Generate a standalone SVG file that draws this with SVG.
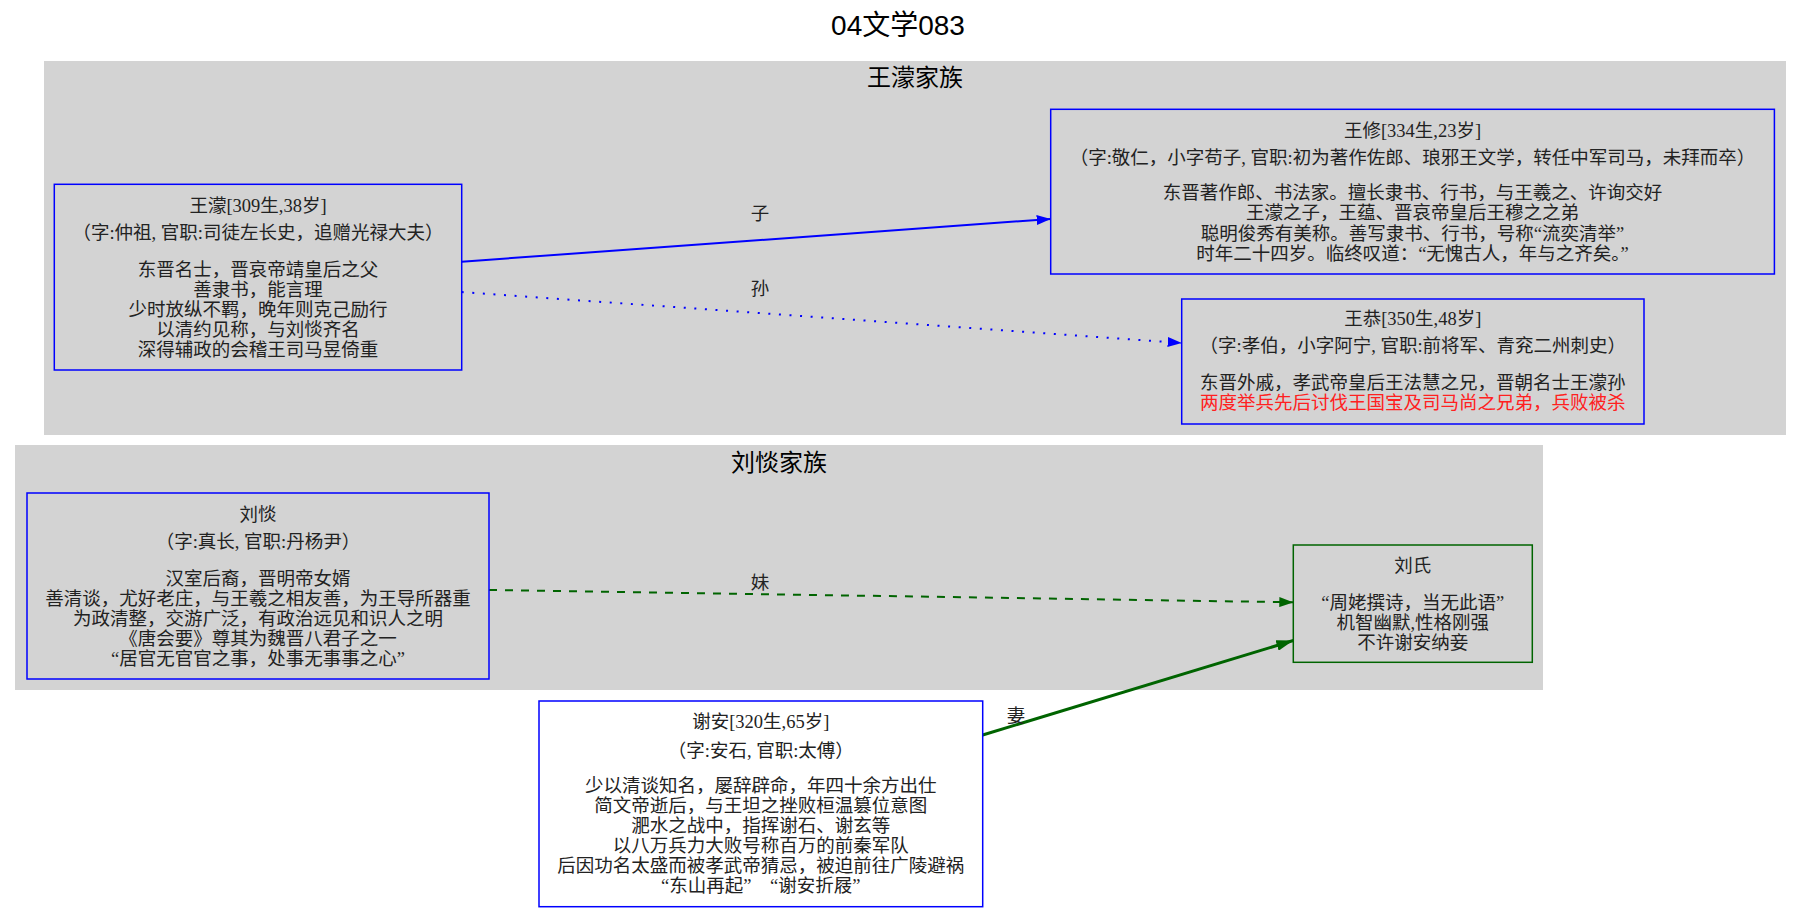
<svg xmlns="http://www.w3.org/2000/svg" width="1801" height="912" viewBox="0 0 1801 912">
  <style>
    .title { font-family: "Liberation Sans", "Noto Sans CJK SC", sans-serif; font-size: 28px; fill: #000; text-anchor: middle; }
    .ctitle { font-family: "Liberation Sans", "Noto Sans CJK SC", sans-serif; font-size: 24px; fill: #000; text-anchor: middle; }
    .cluster { fill: #d3d3d3; stroke: none; }
    .box { fill: none; stroke: #0000ff; stroke-width: 1.5; }
    .box-green { fill: none; stroke: #006400; stroke-width: 1.5; }
    .t { font-family: "Liberation Serif", "Noto Sans CJK SC", serif; font-size: 18.5px; fill: #222; text-anchor: middle; }
    .red { fill: #ff2020; }
    .lbl { font-family: "Liberation Serif", "Noto Sans CJK SC", serif; font-size: 18.5px; fill: #222; text-anchor: middle; }
    .e-blue { fill: none; stroke: #0000ff; stroke-width: 2; }
    .e-blue-dot { fill: none; stroke: #0000ff; stroke-width: 2; stroke-dasharray: 2 8.6; }
    .e-green-dash { fill: none; stroke: #006400; stroke-width: 2; stroke-dasharray: 8 8; }
    .e-green-bold { fill: none; stroke: #006400; stroke-width: 3; }
  </style>
  <defs>
    <marker id="arrow-blue" viewBox="0 0 14 10" refX="14" refY="5" markerWidth="14" markerHeight="10" markerUnits="userSpaceOnUse" orient="auto">
      <path d="M0,0 L14,5 L0,10 Z" fill="#0000ff"/>
    </marker>
    <marker id="arrow-green" viewBox="0 0 14 10" refX="14" refY="5" markerWidth="14" markerHeight="10" markerUnits="userSpaceOnUse" orient="auto">
      <path d="M0,0 L14,5 L0,10 Z" fill="#006400"/>
    </marker>
    <marker id="arrow-green-bold" viewBox="0 0 17 11" refX="17" refY="5.5" markerWidth="17" markerHeight="11" markerUnits="userSpaceOnUse" orient="auto">
      <path d="M0,0 L17,5.5 L0,11 Z" fill="#006400"/>
    </marker>
  </defs>

  <rect width="1801" height="912" fill="#ffffff"/>
  <text class="title" x="898" y="35">04文学083</text>

  <!-- family clusters -->
  <g id="cluster-wangmeng">
    <rect class="cluster" x="44" y="61" width="1742" height="374"/>
    <text class="ctitle" x="915" y="86">王濛家族</text>
  </g>
  <g id="cluster-liutan">
    <rect class="cluster" x="15" y="445" width="1528" height="245"/>
    <text class="ctitle" x="779" y="471">刘惔家族</text>
  </g>

  <!-- relations -->
  <g id="edges">
    <path class="e-blue" d="M461.7,261.7 L1050.7,219" marker-end="url(#arrow-blue)"/>
    <text class="lbl" x="760" y="219.5">子</text>
    <path class="e-blue-dot" d="M461.7,292 L1181.7,343" marker-end="url(#arrow-blue)"/>
    <text class="lbl" x="760" y="294.5">孙</text>
    <path class="e-green-dash" d="M489,590 L1293.3,602.3" marker-end="url(#arrow-green)"/>
    <text class="lbl" x="760" y="588.5">妹</text>
    <path class="e-green-bold" d="M982.7,735 L1293.3,640.5" marker-end="url(#arrow-green-bold)"/>
    <text class="lbl" x="1016" y="722">妻</text>
  </g>

  <g id="node-wangmeng">
    <rect class="box" x="54.3" y="184.3" width="407.4" height="185.7"/>
    <text class="t" x="258" y="212">王濛[309生,38岁]</text>
    <text class="t" x="258" y="238.5">（字:仲祖, 官职:司徒左长史，追赠光禄大夫）</text>
    <text class="t" x="258" y="276">东晋名士，晋哀帝靖皇后之父</text>
    <text class="t" x="258" y="295.5">善隶书，能言理</text>
    <text class="t" x="258" y="315.5">少时放纵不羁，晚年则克己励行</text>
    <text class="t" x="258" y="335.5">以清约见称，与刘惔齐名</text>
    <text class="t" x="258" y="355.5">深得辅政的会稽王司马昱倚重</text>
  </g>

  <g id="node-wangxiu">
    <rect class="box" x="1050.7" y="109.3" width="723.7" height="164.7"/>
    <text class="t" x="1412.5" y="137">王修[334生,23岁]</text>
    <text class="t" x="1412.5" y="163.7">（字:敬仁，小字苟子, 官职:初为著作佐郎、琅邪王文学，转任中军司马，未拜而卒）</text>
    <text class="t" x="1412.5" y="198.7">东晋著作郎、书法家。擅长隶书、行书，与王羲之、许询交好</text>
    <text class="t" x="1412.5" y="219.2">王濛之子，王蕴、晋哀帝皇后王穆之之弟</text>
    <text class="t" x="1412.5" y="239.7">聪明俊秀有美称。善写隶书、行书，号称“流奕清举”</text>
    <text class="t" x="1412.5" y="260.2">时年二十四岁。临终叹道：“无愧古人，年与之齐矣。”</text>
  </g>

  <g id="node-wanggong">
    <rect class="box" x="1181.7" y="299" width="462.3" height="125"/>
    <text class="t" x="1412.8" y="325.3">王恭[350生,48岁]</text>
    <text class="t" x="1412.8" y="352">（字:孝伯，小字阿宁, 官职:前将军、青兖二州刺史）</text>
    <text class="t" x="1412.8" y="388.7">东晋外戚，孝武帝皇后王法慧之兄，晋朝名士王濛孙</text>
    <text class="t red" x="1412.8" y="408.7">两度举兵先后讨伐王国宝及司马尚之兄弟，兵败被杀</text>
  </g>

  <g id="node-liutan">
    <rect class="box" x="27" y="493" width="462" height="186"/>
    <text class="t" x="258" y="521">刘惔</text>
    <text class="t" x="258" y="547.7">（字:真长, 官职:丹杨尹）</text>
    <text class="t" x="258" y="585.3">汉室后裔，晋明帝女婿</text>
    <text class="t" x="258" y="605.3">善清谈，尤好老庄，与王羲之相友善，为王导所器重</text>
    <text class="t" x="258" y="625.3">为政清整，交游广泛，有政治远见和识人之明</text>
    <text class="t" x="258" y="645.3">《唐会要》尊其为魏晋八君子之一</text>
    <text class="t" x="258" y="665.3">“居官无官官之事，处事无事事之心”</text>
  </g>

  <g id="node-liushi">
    <rect class="box-green" x="1293.3" y="545" width="239" height="117.3"/>
    <text class="t" x="1412.8" y="572">刘氏</text>
    <text class="t" x="1412.8" y="608.5">“周姥撰诗，当无此语”</text>
    <text class="t" x="1412.8" y="628.5">机智幽默,性格刚强</text>
    <text class="t" x="1412.8" y="648.5">不许谢安纳妾</text>
  </g>

  <g id="node-xiean">
    <rect class="box" x="539" y="701" width="443.7" height="205.7"/>
    <text class="t" x="760.8" y="727.7">谢安[320生,65岁]</text>
    <text class="t" x="760.8" y="757">（字:安石, 官职:太傅）</text>
    <text class="t" x="760.8" y="792">少以清谈知名，屡辞辟命，年四十余方出仕</text>
    <text class="t" x="760.8" y="812">简文帝逝后，与王坦之挫败桓温篡位意图</text>
    <text class="t" x="760.8" y="832">淝水之战中，指挥谢石、谢玄等</text>
    <text class="t" x="760.8" y="852">以八万兵力大败号称百万的前秦军队</text>
    <text class="t" x="760.8" y="872">后因功名太盛而被孝武帝猜忌，被迫前往广陵避祸</text>
    <text class="t" x="760.8" y="892">“东山再起”　“谢安折屐”</text>
  </g>
</svg>
